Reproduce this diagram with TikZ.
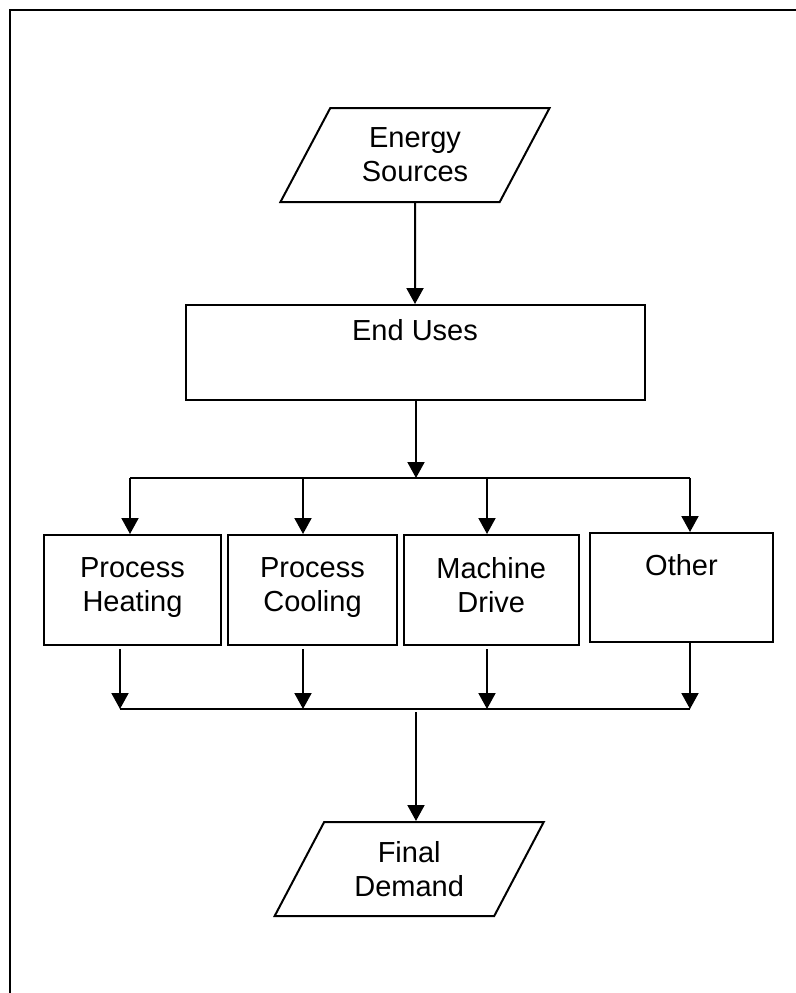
\documentclass[tikz,border=0pt]{standalone}
\usepackage{fontspec}
\setmainfont{Liberation Sans}
\usetikzlibrary{shapes.geometric,arrows.meta,positioning,calc}

\tikzset{
  iobox/.style={draw, trapezium, trapezium left angle=60, trapezium right angle=120, trapezium stretches=true, minimum width=135pt, minimum height=47pt, align=center, inner sep=0pt},
  usebox/.style={draw, minimum height=55pt, align=center, inner sep=0pt, execute at begin node=\strut, execute at end node=\strut},
  link/.style={-{Triangle[length=8pt,width=8.5pt]}}
}

\begin{document}
\begin{tikzpicture}[x=1pt, y=1pt, line width=1pt, font=\fontsize{14.5}{17}\selectfont]
\useasboundingbox (0,0) rectangle (398,-496.5);
\draw[line width=1.2pt] (402,-5) -- (5,-5) -- (5,-502);

\node[iobox] (src) at (207.5,-77.5) {Energy\\Sources};
\node[usebox, minimum width=229.5pt, minimum height=47.5pt, below=50.5pt of src] (use) {End Uses\\~};

\node[usebox, minimum width=88.5pt, anchor=north west] (heat) at (21.5,-267) {Process\\Heating};
\node[usebox, minimum width=84.5pt, right=2.5pt of heat] (cool) {Process\\Cooling};
\node[usebox, minimum width=87.75pt, right=2.25pt of cool] (mach) {Machine\\Drive};
\node[usebox, minimum width=91.5pt, minimum height=54.5pt, right=4.5pt of mach, yshift=1.25pt] (other) {Other\\~};

\node[iobox] (dem) at (204.6,-434.5) {Final\\Demand};

% fork above and join below the end uses
\coordinate (split) at (208,-239);
\coordinate (t1) at (65,-239);
\coordinate (t2) at (151.5,-239);
\coordinate (t3) at (243.5,-239);
\coordinate (t4) at (345,-239);
\coordinate (join) at (208,-354.5);
\coordinate (b1) at (60,-354.5);
\coordinate (b2) at (151.5,-354.5);
\coordinate (b3) at (243.5,-354.5);
\coordinate (b4) at (345,-354.5);

\draw[link] (src) -- (use);
\draw[link] (use.south -| split) -- (split);
\draw (t1) -- (t4);
\draw[link] (t1) -- (t1 |- heat.north);
\draw[link] (t2) -- (t2 |- cool.north);
\draw[link] (t3) -- (t3 |- mach.north);
\draw[link] (t4) -- (t4 |- other.north);
\draw[link, shorten <=1.5pt] (b1 |- heat.south) -- (b1);
\draw[link, shorten <=1.5pt] (b2 |- cool.south) -- (b2);
\draw[link, shorten <=1.5pt] (b3 |- mach.south) -- (b3);
\draw[link] (b4 |- other.south) -- (b4);
\draw (b1) -- (b4);
\draw[link, shorten <=1.5pt] (join) -- (join |- dem.north);
\end{tikzpicture}
\end{document}
